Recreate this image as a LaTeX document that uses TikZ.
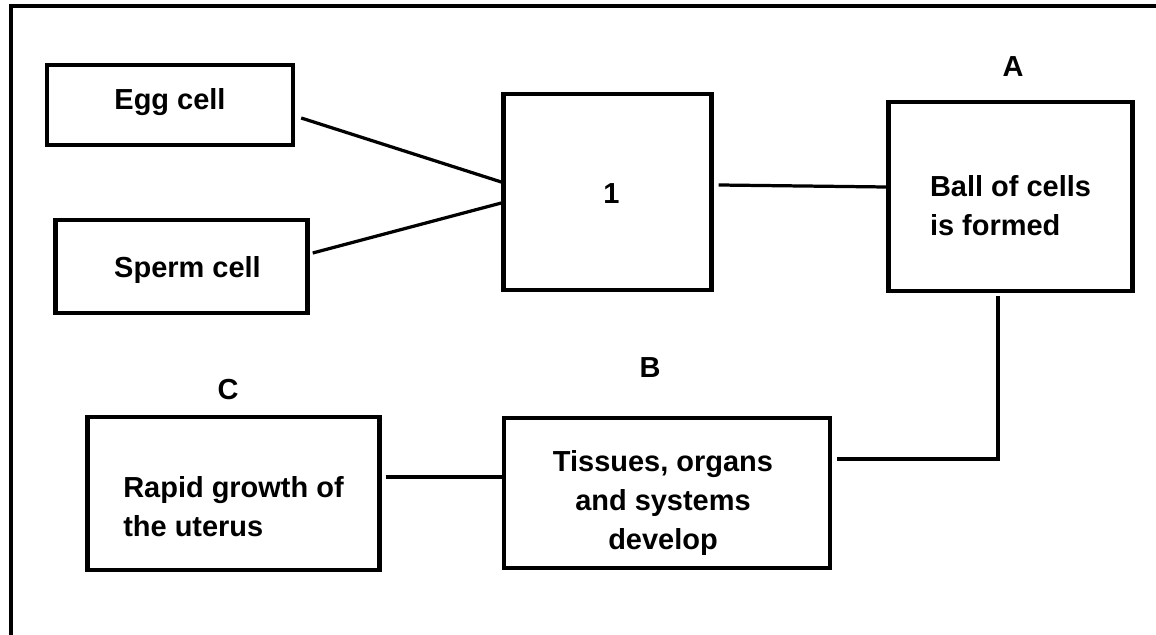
\documentclass[tikz,border=0pt]{standalone}
\usepackage{fontspec}
\setmainfont{Liberation Sans}
\usetikzlibrary{calc}

\tikzset{
  stagebox/.style={draw, line width=3.1pt, rectangle},
  stagetext/.style={align=center, font=\bfseries\fontsize{20.6}{27.4}\selectfont},
  stagelabel/.style={font=\bfseries\fontsize{20.6}{27.4}\selectfont},
  link/.style={line width=2.3pt}
}

\begin{document}
\begin{tikzpicture}[x=0.025cm,y=-0.025cm]
\useasboundingbox (0,0) rectangle (1156,635);

% Frame (top and left only)
\draw[line width=3.2pt] (1156,6) -- (11,6) -- (11,635);

% Boxes
\node[stagebox, minimum width=6.15cm, minimum height=2.0cm] (egg) at (170,105) {};
\node[stagebox, minimum width=6.3cm, minimum height=2.33cm] (sperm) at (181.5,266.5) {};
\node[stagebox, minimum width=5.2cm, minimum height=4.9cm] (one) at (607.5,192) {};
\node[stagebox, minimum width=6.1cm, minimum height=4.72cm] (ball) at (1010.5,196.5) {};
\node[stagebox, minimum width=8.15cm, minimum height=3.75cm] (tissues) at (667,493) {};
\node[stagebox, minimum width=7.3cm, minimum height=3.82cm] (rapid) at (233.5,493.5) {};

% Box texts
\node[stagetext] (eggText) at ($(egg)+(0,-3)$) {Egg cell};
\node[stagetext] (spermText) at ($(sperm)+(6,4)$) {Sperm cell};
\node[stagetext] (oneText) at ($(one)+(4,2)$) {1};
\node[stagetext, align=left] (ballText) at ($(ball)+(0,9)$) {Ball of cells\\is formed};
\node[stagetext] (tissuesText) at ($(tissues)+(-4,10)$) {Tissues, organs\\and systems\\develop};
\node[stagetext, align=left] (rapidText) at ($(rapid)+(0,13)$) {Rapid growth of\\the uterus};

% Letters
\node[stagelabel] (labelA) at (1013,67) {A};
\node[stagelabel] (labelB) at (650,368) {B};
\node[stagelabel] (labelC) at (228,390) {C};

% Connecting lines
\draw[link] ($(egg.east)+(6,13)$) -- ($(one.west)+(0,-10)$);
\draw[link] ($(sperm.east)+(3,-13.5)$) -- ($(one.west)+(0,11)$);
\draw[link] ($(one.east)+(5,-7)$) -- ($(ball.west)+(0,-9.5)$);
\draw[link] ($(ball.south)+(-12.5,3)$) |- ($(tissues.east)+(5,-34)$);
\draw[link] ($(rapid.east)+(4,-16.5)$) -- ($(tissues.west)+(0,-16)$);
\end{tikzpicture}
\end{document}
